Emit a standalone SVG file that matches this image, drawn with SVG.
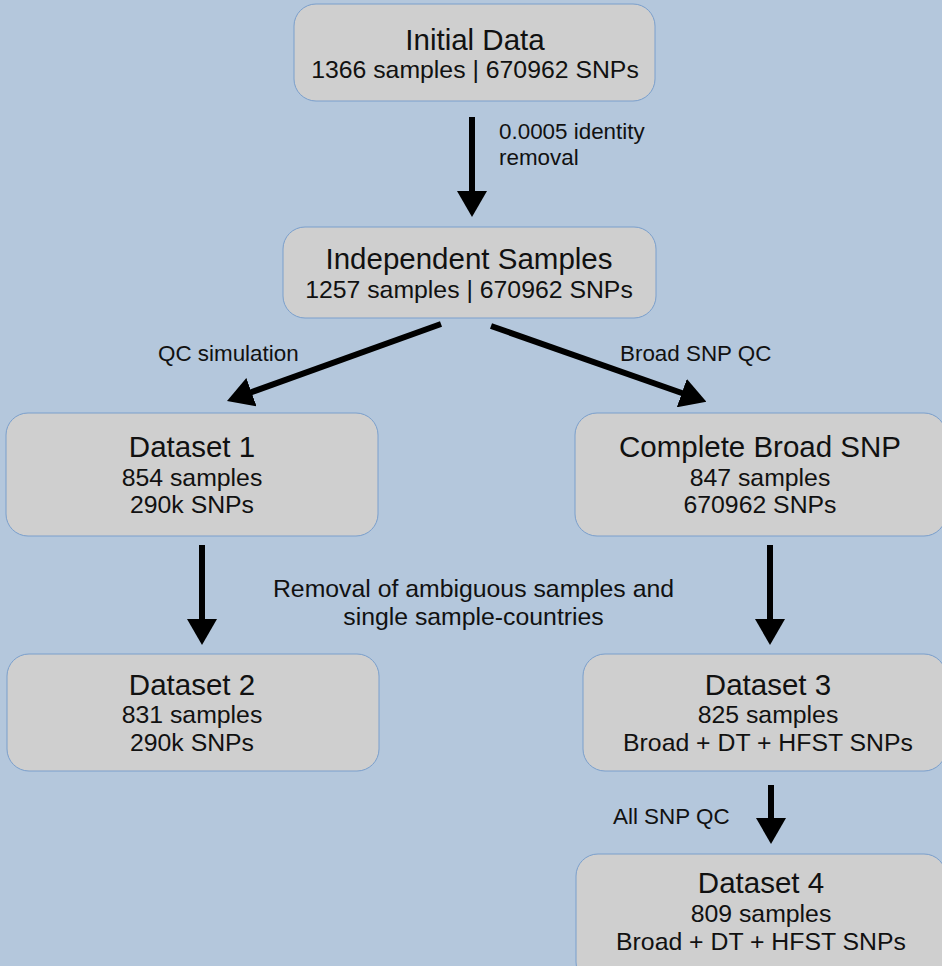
<svg xmlns="http://www.w3.org/2000/svg" width="942" height="966" viewBox="0 0 942 966">
<defs>
<style>
.box{fill:#cfcfcf;stroke:#7a9fcc;stroke-width:1}
.t{font-family:"Liberation Sans",Arial,sans-serif;fill:#111;text-anchor:middle}
.h{font-size:29.5px}
.s{font-size:24.8px}
.l{font-family:"Liberation Sans",Arial,sans-serif;fill:#111;font-size:22.4px}
.c{stroke:#000;stroke-width:6;fill:none;marker-end:url(#ah)}
</style>
<marker id="ah" markerUnits="userSpaceOnUse" markerWidth="26" markerHeight="30" viewBox="0 0 26 30" refX="6" refY="15" orient="auto">
<path d="M0,0 L26,15 L0,30 Z" fill="#000"/>
</marker>
</defs>
<rect width="942" height="966" fill="#b4c7dc"/>
<g id="connectors">
<line class="c" x1="472" y1="117" x2="472" y2="197"/>
<line class="c" x1="441" y1="324" x2="245.8" y2="394.2"/>
<line class="c" x1="491" y1="326" x2="687.5" y2="395"/>
<line class="c" x1="202" y1="545" x2="202" y2="625"/>
<line class="c" x1="770" y1="545" x2="770" y2="625"/>
<line class="c" x1="771" y1="785" x2="771" y2="824"/>
<text class="l" x="499" y="139">0.0005 identity</text>
<text class="l" x="499" y="165">removal</text>
<text class="l" x="158" y="361">QC simulation</text>
<text class="l" x="620" y="361">Broad SNP QC</text>
<text class="l" x="473.5" y="597" style="font-size:24.8px;text-anchor:middle">Removal of ambiguous samples and</text>
<text class="l" x="473.5" y="625" style="font-size:24.8px;text-anchor:middle">single sample-countries</text>
<text class="l" x="613" y="824">All SNP QC</text>
</g>
<g id="initial">
<rect class="box" x="294" y="4" width="361" height="97" rx="22"/>
<text class="t h" x="475" y="50">Initial Data</text>
<text class="t s" x="475" y="78">1366 samples | 670962 SNPs</text>
</g>
<g id="independent">
<rect class="box" x="283" y="227" width="373" height="91" rx="22"/>
<text class="t h" x="469" y="269">Independent Samples</text>
<text class="t s" x="469" y="298">1257 samples | 670962 SNPs</text>
</g>
<g id="dataset1">
<rect class="box" x="6" y="413" width="372" height="123" rx="22"/>
<text class="t h" x="192" y="457">Dataset 1</text>
<text class="t s" x="192" y="486">854 samples</text>
<text class="t s" x="192" y="513">290k SNPs</text>
</g>
<g id="completebroad">
<rect class="box" x="575" y="413" width="371" height="123" rx="22"/>
<text class="t h" x="760" y="457">Complete Broad SNP</text>
<text class="t s" x="760" y="486">847 samples</text>
<text class="t s" x="760" y="513">670962 SNPs</text>
</g>
<g id="dataset2">
<rect class="box" x="7" y="654" width="372" height="117" rx="22"/>
<text class="t h" x="192" y="695">Dataset 2</text>
<text class="t s" x="192" y="723">831 samples</text>
<text class="t s" x="192" y="751">290k SNPs</text>
</g>
<g id="dataset3">
<rect class="box" x="583" y="654" width="363" height="117" rx="22"/>
<text class="t h" x="768" y="695">Dataset 3</text>
<text class="t s" x="768" y="723">825 samples</text>
<text class="t s" x="768" y="751">Broad + DT + HFST SNPs</text>
</g>
<g id="dataset4">
<rect class="box" x="576" y="854" width="370" height="130" rx="22"/>
<text class="t h" x="761" y="893">Dataset 4</text>
<text class="t s" x="761" y="922">809 samples</text>
<text class="t s" x="761" y="950">Broad + DT + HFST SNPs</text>
</g>
</svg>
